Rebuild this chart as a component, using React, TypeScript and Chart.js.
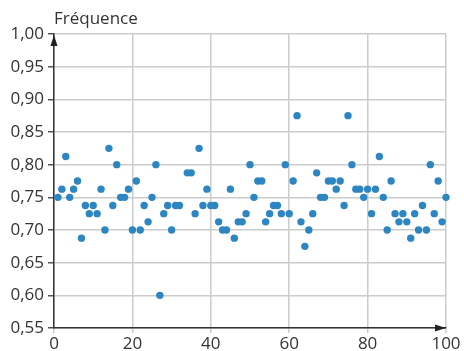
import React, { useEffect, useRef } from "react";
import { Chart, registerables } from "chart.js";

Chart.register(...registerables);

const trials: number[] = [
  1, 2, 3, 4, 5, 6, 7, 8, 9, 10, 11, 12, 13, 14, 15, 16, 17, 18, 19, 20,
  21, 22, 23, 24, 25, 26, 27, 28, 29, 30, 31, 32, 34, 35, 36, 37, 38, 39, 40,
  41, 42, 43, 44, 45, 46, 47, 48, 49, 50, 51, 52, 53, 54, 55, 56, 57, 58, 59, 60,
  61, 62, 63, 64, 65, 66, 67, 68, 69, 70, 71, 72, 73, 74, 75, 76, 77, 78, 79, 80,
  81, 82, 83, 84, 85, 86, 87, 88, 89, 90, 91, 92, 93, 94, 95, 96, 97, 98, 99, 100,
];

const frequencies: number[] = [
  0.75, 0.7625, 0.8125, 0.75, 0.7625, 0.775, 0.6875, 0.7375, 0.725, 0.7375,
  0.725, 0.7625, 0.7, 0.825, 0.7375, 0.8, 0.75, 0.75, 0.7625, 0.7,
  0.775, 0.7, 0.7375, 0.7125, 0.75, 0.8, 0.6, 0.725, 0.7375, 0.7,
  0.7375, 0.7375, 0.7875, 0.7875, 0.725, 0.825, 0.7375, 0.7625, 0.7375,
  0.7375, 0.7125, 0.7, 0.7, 0.7625, 0.6875, 0.7125, 0.7125, 0.725, 0.8,
  0.75, 0.775, 0.775, 0.7125, 0.725, 0.7375, 0.7375, 0.725, 0.8, 0.725,
  0.775, 0.875, 0.7125, 0.675, 0.7, 0.725, 0.7875, 0.75, 0.75, 0.775,
  0.775, 0.7625, 0.775, 0.7375, 0.875, 0.8, 0.7625, 0.7625, 0.75, 0.7625,
  0.725, 0.7625, 0.8125, 0.75, 0.7, 0.775, 0.725, 0.7125, 0.725, 0.7125,
  0.6875, 0.725, 0.7, 0.7375, 0.7, 0.8, 0.725, 0.775, 0.7125, 0.75,
];

const yTitle = "Fréquence";
const FONT = "'Open Sans', 'DejaVu Sans', sans-serif";

const arrowsPlugin = {
  id: "arrowsAndTitle",
  afterDraw(chart: any) {
    const { ctx, chartArea } = chart;
    const { left, right, top, bottom } = chartArea;
    ctx.save();
    ctx.fillStyle = "#222";
    // y arrow
    ctx.beginPath();
    ctx.moveTo(left, top + 1);
    ctx.lineTo(left - 3.5, top + 12);
    ctx.lineTo(left + 3.5, top + 12);
    ctx.closePath();
    ctx.fill();
    // x arrow
    ctx.beginPath();
    ctx.moveTo(right, bottom);
    ctx.lineTo(right - 11, bottom - 3.5);
    ctx.lineTo(right - 11, bottom + 3.5);
    ctx.closePath();
    ctx.fill();
    // title
    ctx.fillStyle = "#333";
    ctx.font = `17px ${FONT}`;
    ctx.textAlign = "left";
    ctx.textBaseline = "alphabetic";
    ctx.fillText(yTitle, left, 24);
    ctx.restore();
  },
};

export default function App() {
  const ref = useRef<HTMLCanvasElement | null>(null);
  useEffect(() => {
    if (!ref.current) return;
    const chart = new Chart(ref.current, {
      type: "scatter",
      data: {
        datasets: [
          {
            data: trials.map((t, i) => ({ x: t, y: frequencies[i] })),
            backgroundColor: "#2d86c2",
            borderColor: "#2d86c2",
            pointRadius: 3.7,
            borderWidth: 0,
            clip: false,
          } as any,
        ],
      },
      options: {
        animation: false,
        responsive: false,
        devicePixelRatio: 1,
        layout: { padding: { left: 0, top: 34, right: 18, bottom: 0 } },
        plugins: {
          legend: { display: false },
          tooltip: { enabled: false },
          title: { display: false },
        },
        scales: {
          x: {
            type: "linear",
            min: 0,
            max: 100,
            ticks: {
              stepSize: 20,
              color: "#333",
              font: { size: 17, family: FONT },
              padding: 1,
              maxRotation: 0,
            },
            grid: {
              color: "#cccccc",
              lineWidth: 1.5,
              tickLength: 5,
              tickColor: "#cccccc",
            },
            border: { color: "#333", width: 1.5 },
            afterFit: (scale: any) => {
              scale.height = 23;
            },
          },
          y: {
            type: "linear",
            min: 0.55,
            max: 1.0,
            ticks: {
              stepSize: 0.05,
              color: "#333",
              font: { size: 17, family: FONT },
              padding: 4,
              callback: (v: any) => Number(v).toFixed(2).replace(".", ","),
            },
            grid: {
              color: "#cccccc",
              lineWidth: 1.5,
              tickLength: 6,
              tickColor: "#555",
            },
            border: { color: "#333", width: 1.5 },
            afterFit: (scale: any) => {
              scale.width = 54;
            },
          },
        },
      },
      plugins: [arrowsPlugin],
    });
    return () => chart.destroy();
  }, []);
  return (
    <div style={{ position: "fixed", left: 0, top: 0, width: 464, height: 351, background: "#fff" }}>
      <canvas ref={ref} width={464} height={351} style={{ display: "block" }} />
    </div>
  );
}
